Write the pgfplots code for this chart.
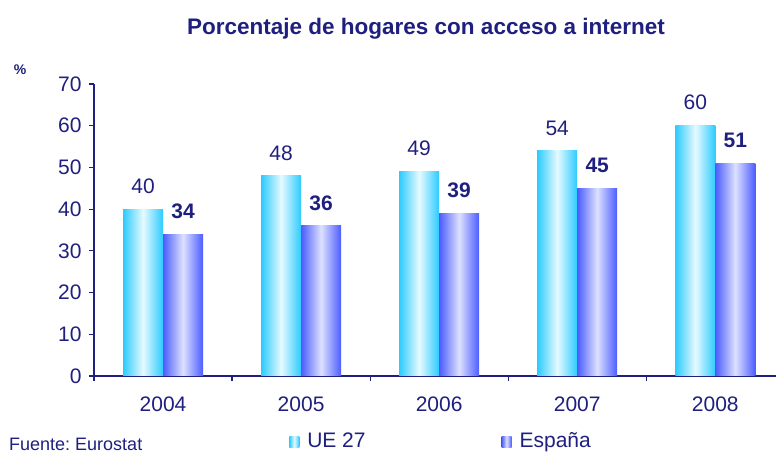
\documentclass[border=0pt]{standalone}
\usepackage{pgfplots}
\pgfplotsset{compat=1.18}
\usepackage{fontspec}
\setmainfont{Liberation Sans}
\frenchspacing
\definecolor{navy}{HTML}{1F1F7F}
\definecolor{cyanE}{HTML}{2CCBFF}
\definecolor{cyanM}{HTML}{E6FAFF}
\definecolor{blueE}{HTML}{4B5CFF}
\definecolor{blueM}{HTML}{DDE1FF}
\pgfplotsset{
  ue/.style={draw=none, left color=cyanE, right color=cyanE, middle color=cyanM, bar shift=-20pt},
  es/.style={draw=none, left color=blueE, right color=blueE, middle color=blueM, bar shift=20pt,
    every node near coord/.append style={font=\fontsize{21}{21}\selectfont\bfseries}},
}
\begin{document}
\begin{tikzpicture}
\useasboundingbox (-94pt,-78pt) rectangle (682pt,376pt);
\begin{axis}[
  at={(0pt,0pt)}, anchor=south west,
  scale only axis, width=682pt, height=292pt,
  xmin=-0.5, xmax=4.44, ymin=0, ymax=70,
  ytick={0,10,...,70},
  axis x line*=bottom, axis y line*=left,
  axis line style={navy, line width=1.2pt, -},
  tick align=outside, major tick length=5pt,
  tick style={navy, line width=1.2pt},
  xtick={-0.5,0.5,1.5,2.5,3.5}, xticklabels={,,,,},
  extra x ticks={0,1,2,3,4},
  extra x tick labels={2004,2005,2006,2007,2008},
  extra x tick style={major tick length=0pt},
  /pgf/number format/assume math mode=true,
  ticklabel style={font=\fontsize{21}{21}\selectfont, text=navy},
  yticklabel style={xshift=-4pt},
  xticklabel style={yshift=-17pt},
  ybar=0pt, bar width=40pt,
  nodes near coords,
  every node near coord/.append style={font=\fontsize{21}{21}\selectfont, text=navy, yshift=12pt},
  legend columns=2,
  legend style={draw=none, fill=none, at={(0.286,-0.223)}, anchor=west,
    font=\fontsize{21}{21}\selectfont, text=navy, inner sep=0pt,
    /tikz/every odd column/.append style={column sep=6pt},
    /tikz/every even column/.append style={column sep=134pt}},
  legend image code/.code={\path[#1, draw=none] (0pt,-6pt) rectangle (10pt,5pt);},
  clip=false,
]
\addplot[ue] coordinates {(0,40)};
\addlegendentry{UE 27}
\addplot[es] coordinates {(0,34)};
\addlegendentry{España}
\addplot[ue, forget plot] coordinates {(1,48)};
\addplot[ue, forget plot] coordinates {(2,49)};
\addplot[ue, forget plot] coordinates {(3,54)};
\addplot[ue, forget plot] coordinates {(4,60)};
\addplot[es, forget plot] coordinates {(1,36)};
\addplot[es, forget plot] coordinates {(2,39)};
\addplot[es, forget plot] coordinates {(3,45)};
\addplot[es, forget plot] coordinates {(4,51)};
\end{axis}
\node[font=\fontsize{22.5}{22.5}\selectfont\bfseries, text=navy] at (332pt,347pt) {Porcentaje de hogares con acceso a internet};
\node[font=\fontsize{18}{18}\selectfont, text=navy, anchor=west, inner sep=0pt] at (-85pt,-68pt) {Fuente: Eurostat};
\node[font=\fontsize{14}{14}\selectfont\bfseries, text=navy] at (-74pt,306pt) {\%};
\end{tikzpicture}
\end{document}
